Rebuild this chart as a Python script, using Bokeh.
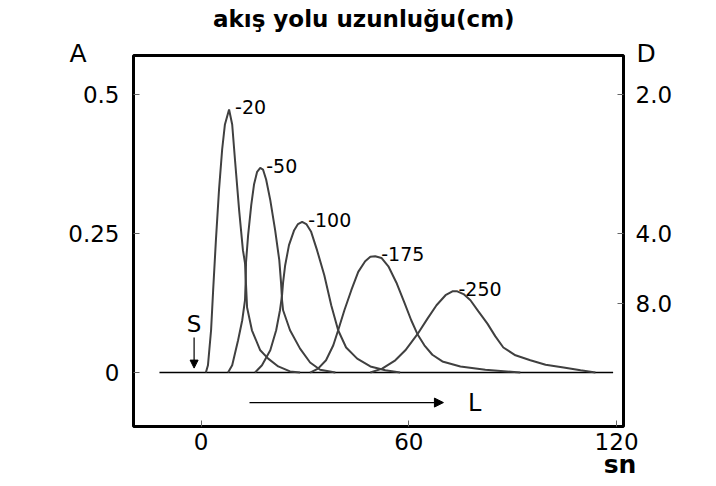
from bokeh.plotting import figure
from bokeh.models import (FixedTicker, LinearAxis, Label, Arrow, NormalHead, Range1d)
from bokeh.core.properties import value
from bokeh.embed import file_html
from bokeh.resources import INLINE

# ---------------- data ----------------
title_text = "akış yolu uzunluğu(cm)"
path_lengths = ["20", "50", "100", "175", "250"]  # cm

t_20 = [1.4, 2.0, 2.9, 3.5, 4.3, 5.2, 6.1, 6.9, 8.1, 9.0, 9.8, 11.0, 12.1, 12.7, 13.0, 13.3, 14.7, 17.1, 19.4, 22.3, 25.7, 28.6]
a_20 = [0.0, 0.013, 0.076, 0.148, 0.238, 0.329, 0.401, 0.446, 0.473, 0.446, 0.383, 0.292, 0.220, 0.197, 0.157, 0.117, 0.076, 0.040, 0.025, 0.011, 0.002, 0.0]

t_50 = [7.8, 9.0, 10.7, 11.9, 12.7, 12.9, 13.0, 13.6, 14.5, 15.3, 16.2, 17.1, 17.9, 18.8, 20.0, 21.4, 22.6, 23.1, 23.4, 23.7, 25.7, 28.6, 31.5, 34.4, 38.8]
a_50 = [0.0, 0.013, 0.058, 0.094, 0.130, 0.166, 0.199, 0.247, 0.301, 0.338, 0.361, 0.368, 0.365, 0.347, 0.310, 0.256, 0.202, 0.162, 0.130, 0.112, 0.076, 0.043, 0.018, 0.005, 0.0]

t_100 = [15.6, 17.6, 20.0, 21.7, 22.8, 23.4, 23.7, 24.3, 25.4, 26.9, 28.0, 29.2, 30.4, 31.8, 33.5, 35.6, 37.6, 39.6, 41.9, 45.1, 48.9, 53.2, 57.5]
a_100 = [0.0, 0.013, 0.040, 0.076, 0.112, 0.139, 0.162, 0.193, 0.229, 0.256, 0.267, 0.271, 0.267, 0.253, 0.220, 0.175, 0.121, 0.076, 0.045, 0.025, 0.011, 0.004, 0.0]

t_175 = [31.5, 33.8, 36.1, 38.2, 39.6, 41.4, 43.4, 45.4, 47.4, 48.9, 50.3, 52.1, 54.1, 56.4, 58.7, 60.7, 62.5, 64.5, 66.8, 69.7, 74.9, 82.1, 92.2]
a_175 = [0.0, 0.007, 0.022, 0.049, 0.076, 0.112, 0.148, 0.181, 0.200, 0.208, 0.209, 0.206, 0.191, 0.162, 0.126, 0.094, 0.069, 0.049, 0.032, 0.020, 0.011, 0.005, 0.0]

t_250 = [48.9, 52.3, 56.1, 59.0, 62.5, 65.4, 68.0, 70.6, 72.6, 74.0, 75.8, 77.8, 80.1, 82.7, 85.0, 87.3, 90.8, 95.1, 99.5, 104.7, 109.6, 113.9]
a_250 = [0.0, 0.007, 0.022, 0.040, 0.069, 0.097, 0.121, 0.139, 0.146, 0.146, 0.141, 0.130, 0.110, 0.088, 0.065, 0.045, 0.031, 0.022, 0.014, 0.009, 0.004, 0.0]

x_ticks = [0, 60, 120]
a_ticks = [0, 0.25, 0.5]
a_tick_labels = ["0", "0.25", "0.5"]
d_ticks = [2.0, 4.0, 8.0]
d_tick_labels = ["2.0", "4.0", "8.0"]

baseline_t = [-12.0, 119.0]
s_marker_t = -2.0
l_arrow_t = [14.0, 70.0]

curves_t = [t_20, t_50, t_100, t_175, t_250]
curves_a = [a_20, a_50, a_100, a_175, a_250]

# ---------------- figure ----------------
FONT = "DejaVu Sans"
p = figure(width=708, height=484, output_backend="svg", toolbar_location=None,
           x_range=Range1d(-19.5, 122.0), y_range=Range1d(-0.097, 0.570),
           min_border_left=133, min_border_right=85, min_border_top=55, min_border_bottom=58,
           x_axis_location=None, y_axis_location=None, title=None)
p.background_fill_color = "white"
p.border_fill_color = "white"
p.outline_line_color = "black"
p.outline_line_width = 3
p.xgrid.visible = False
p.ygrid.visible = False


def style_axis(ax):
    ax.axis_line_color = None
    ax.major_tick_in = 6
    ax.major_tick_out = 0
    ax.major_tick_line_color = "#666666"
    ax.major_tick_line_width = 1
    ax.minor_tick_line_color = None
    ax.major_label_text_font = FONT
    ax.major_label_text_font_size = "23px"
    ax.major_label_text_color = "black"


xa = LinearAxis(ticker=FixedTicker(ticks=x_ticks))
style_axis(xa)
xa.major_label_standoff = 6
p.add_layout(xa, "below")

ya = LinearAxis(ticker=FixedTicker(ticks=a_ticks),
                major_label_overrides={t: s for t, s in zip(a_ticks, a_tick_labels)})
style_axis(ya)
ya.major_label_standoff = 14
p.add_layout(ya, "left")

d_pos = [1.0 / d for d in d_ticks]
ra = LinearAxis(ticker=FixedTicker(ticks=d_pos),
                major_label_overrides={t: s for t, s in zip(d_pos, d_tick_labels)})
style_axis(ra)
ra.major_label_standoff = 12
p.add_layout(ra, "right")

# baseline
p.segment(x0=[baseline_t[0]], y0=[0], x1=[baseline_t[1]], y1=[0], line_color="black", line_width=1.5)

# curves
for ts, as_ in zip(curves_t, curves_a):
    p.line(ts, as_, line_color="#404040", line_width=2)

# peak labels
peak_t, peak_a = [], []
for ts, as_ in zip(curves_t, curves_a):
    i = max(range(len(as_)), key=lambda k: as_[k])
    peak_t.append(ts[i])
    peak_a.append(as_[i])
p.text(x=peak_t, y=peak_a, text=["-" + s for s in path_lengths], x_offset=6, y_offset=-2,
       text_baseline="middle", text_align="left", text_font=value(FONT),
       text_font_size="19px", text_color="black")

# S marker
p.add_layout(Arrow(x_start=s_marker_t, y_start=0.063, x_end=s_marker_t, y_end=0.008,
                   line_color="black", line_width=1.2,
                   end=NormalHead(size=8, fill_color="black", line_color="black")))
p.add_layout(Label(x=s_marker_t, y=0.088, text="S", text_align="center", text_baseline="middle",
                   text_font=FONT, text_font_size="23px", text_color="black"))

# L arrow
p.add_layout(Arrow(x_start=l_arrow_t[0], y_start=-0.054, x_end=l_arrow_t[1], y_end=-0.054,
                   line_color="black", line_width=1.2,
                   end=NormalHead(size=9, fill_color="black", line_color="black")))
p.add_layout(Label(x=l_arrow_t[1] + 9, y=-0.054, text="L", text_align="center", text_baseline="middle",
                   text_font=FONT, text_font_size="24px", text_color="black"))

# axis letters and title (placed in side panels so they are not clipped to the frame)
p.add_layout(Label(x=-35.5, y=0.574, text="A", text_align="center", text_baseline="middle",
                   text_font=FONT, text_font_size="25px", text_color="black"), "left")
p.add_layout(Label(x=128.5, y=0.574, text="D", text_align="center", text_baseline="middle",
                   text_font=FONT, text_font_size="25px", text_color="black"), "right")
p.add_layout(Label(x=121.0, y=-0.165, text="sn", text_align="center", text_baseline="middle",
                   text_font=FONT, text_font_size="25px", text_font_style="bold", text_color="black"), "left")
p.add_layout(Label(x=47.0, y=0.636, text=title_text, text_align="center", text_baseline="middle",
                   text_font=FONT, text_font_size="23px", text_font_style="bold", text_color="black"), "above")

open("out.html", "w").write(file_html(p, INLINE))
